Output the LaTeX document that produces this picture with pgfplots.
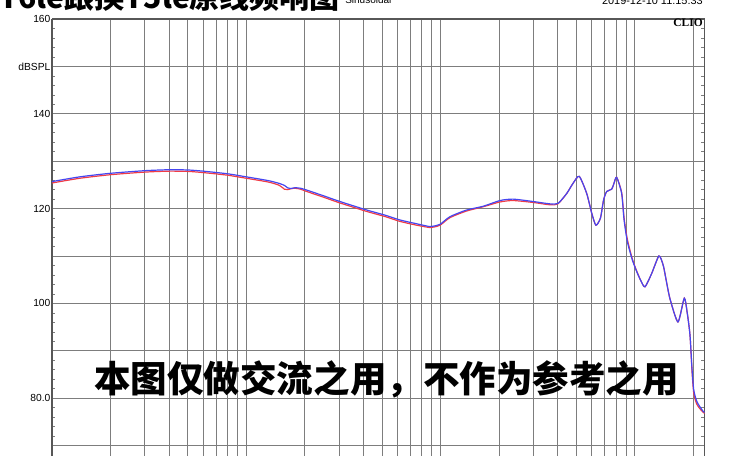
\documentclass[border=0pt]{standalone}
\usepackage{pgfplots}
\pgfplotsset{compat=1.18}
\usepackage{fontspec}
\setmainfont{Liberation Sans}
\newfontfamily\cjk{Noto Sans CJK SC}
\newfontfamily\clio{Liberation Serif}
\definecolor{curvered}{RGB}{240,60,70}
\definecolor{curveblue}{RGB}{70,70,240}
\definecolor{gridgray}{RGB}{125,125,125}

\begin{document}
\begin{tikzpicture}
\begin{axis}[
  at={(0,0)}, anchor=south west,
  scale only axis,
  width=489.5pt, height=327.75pt,
  xmode=log,
  xmin=10, xmax=22870,
  ymin=67.81, ymax=160,
  axis x line*=top,
  axis y line*=box,
  axis line style={-, gridgray!70!black, line width=0.8pt},
  xtick={10,100,1000,10000},
  minor xtick={20,30,...,90,200,300,...,900,2000,3000,...,9000,20000},
  xticklabels={},
  xtick style={draw=none},
  minor x tick style={draw=none},
  xmajorgrids=true, xminorgrids=true, ymajorgrids=true,
  major grid style={gridgray, line width=0.6pt},
  minor grid style={gridgray, line width=0.6pt},
  ytick={70,80,...,160},
  yticklabels={,80.0,,100,,120,,140,dBSPL,160},
  minor y tick num=4,
  ytick pos=both,
  tick align=inside,
  major tick length=0pt,
  minor tick length=2.5pt,
  minor y tick style={gridgray, line width=0.5pt},
  yticklabel style={font=\fontsize{7.7}{9}\selectfont, inner sep=1pt, text=black},
  clip=true,
]
% red trace (drawn first, blue lies on top)
\addplot[curvered, line width=0.9pt, smooth, tension=0.4] table {
10 125.4
13.9 126.4
20 127.15
30 127.7
40 127.9
50 127.85
60 127.6
80 127.05
100 126.4
130 125.6
148 124.9
157 124.1
163 124.0
170 124.2
178 124.3
190 124.1
205 123.6
250 122.4
303 121.2
417 119.4
520 118.3
618 117.3
753 116.5
880 116.0
920 116.1
995 116.5
1118 118.1
1362 119.5
1660 120.4
2020 121.4
2360 121.7
2990 121.3
3660 120.8
4020 121.0
4460 123.2
4800 125.3
5170 126.8
5650 123.2
6000 119.0
6300 116.5
6650 118.0
6900 121.8
7160 123.6
7600 124.1
7800 125.3
8060 126.6
8550 123.4
8800 118.0
9150 113.5
9700 109.4
10200 106.9
10700 104.9
11270 103.5
12200 106.3
13300 110.0
14000 108.0
14600 104.2
15200 100.8
16670 96.1
17960 101.1
18600 98.0
19220 93.3
19700 85.5
20100 81.0
20800 78.8
21600 77.8
22490 77.0
22870 76.8
};
% blue trace
\addplot[curveblue, line width=0.9pt, smooth, tension=0.4] table {
10 125.7
13.9 126.7
20 127.45
30 128.0
40 128.2
50 128.15
60 127.9
80 127.35
100 126.7
130 125.9
148 125.3
157 124.9
163 124.4
170 124.25
178 124.4
190 124.3
205 123.9
250 122.7
303 121.5
417 119.7
520 118.6
618 117.6
753 116.8
880 116.2
920 116.3
995 116.7
1118 118.3
1362 119.7
1660 120.5
2020 121.7
2360 122.0
2990 121.5
3660 121.0
4020 121.1
4460 123.2
4800 125.3
5170 126.8
5650 123.2
6000 119.0
6300 116.5
6650 118.0
6900 121.8
7160 123.6
7600 124.1
7800 125.3
8060 126.6
8550 123.2
8800 117.6
9150 113.0
9700 109.2
10200 106.8
10700 104.9
11270 103.5
12200 106.3
13300 110.0
14000 108.0
14600 104.2
15200 100.8
16670 96.1
17960 101.1
18600 98.0
19220 93.3
19700 86.0
20100 81.7
20800 79.4
21600 78.2
22490 77.2
22870 77.0
};
\end{axis}
% header, cut off by the page edge like the reference
\node[anchor=base west, inner sep=0pt, font=\cjk\bfseries\fontsize{22.5}{26}\selectfont]
  at (-39.75pt,335.25pt) {T6le跟换T5le原线频响图};
\node[anchor=base west, inner sep=0pt, font=\fontsize{7.5}{9}\selectfont]
  at (219.75pt,339.4pt) {Sinusoidal};
\node[anchor=base east, inner sep=0pt, font=\fontsize{8.2}{10}\selectfont]
  at (488.25pt,338.25pt) {2019-12-10 11:15:33};
\node[anchor=base east, inner sep=0pt, font=\clio\bfseries\fontsize{8.6}{10}\selectfont]
  at (488.25pt,321.75pt) {CLIO};
% watermark
\node[anchor=west, inner sep=0pt, font=\cjk\bfseries\fontsize{27.4}{30}\selectfont]
  at (31.5pt,57.75pt) {本图仅做交流之用，不作为参考之用};
\pgfresetboundingbox
\useasboundingbox (-39pt,0pt) rectangle (509.25pt,342pt);
\end{tikzpicture}
\end{document}
